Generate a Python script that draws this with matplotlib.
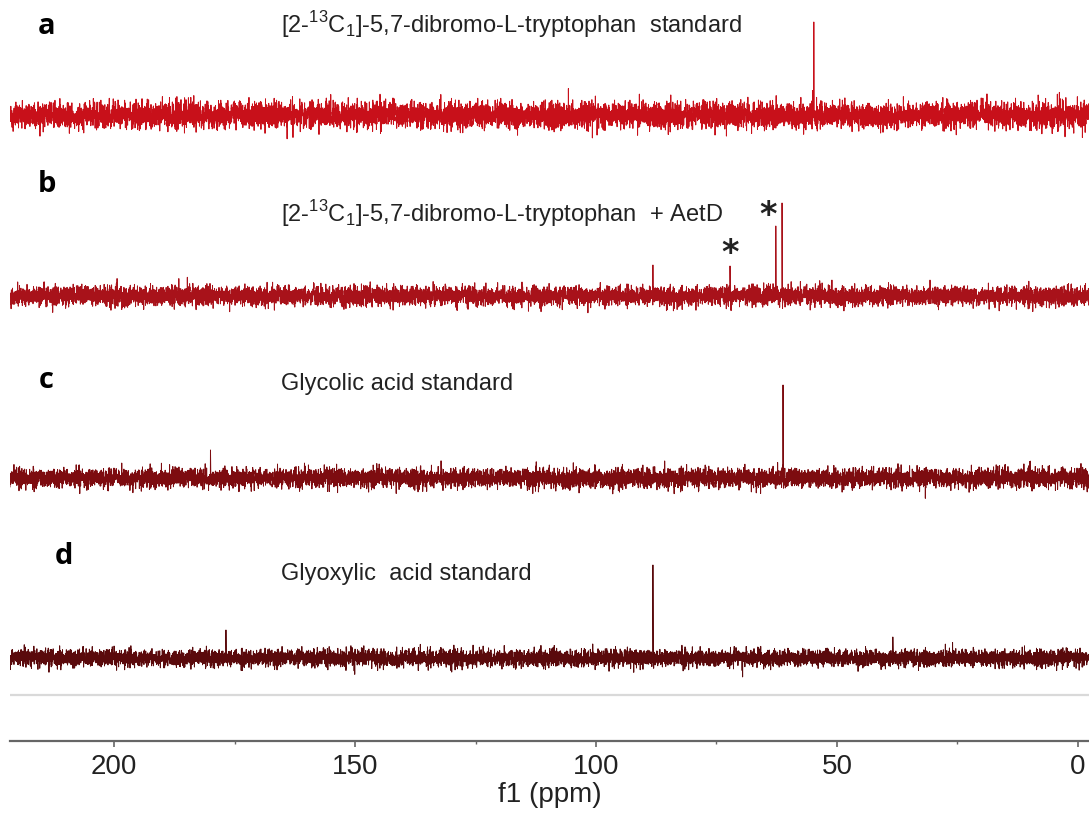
import numpy as np
import matplotlib
matplotlib.use("Agg")
import matplotlib.pyplot as plt
from matplotlib.ticker import MultipleLocator

# peak positions (ppm) and heights (approx. px above baseline)
peaks_a_ppm = [54.8]
peaks_a_h = [93]
peaks_b_ppm = [88.2, 72.2, 62.7, 61.4]
peaks_b_h = [31, 30, 70, 93]
peaks_c_ppm = [180.0, 61.2]
peaks_c_h = [28, 93]
peaks_d_ppm = [176.8, 88.2, 38.4]
peaks_d_h = [28, 93, 21]

panel_letters = ['a', 'b', 'c', 'd']
panel_titles = [r'[2-$^{13}$C$_1$]-5,7-dibromo-L-tryptophan  standard',
                r'[2-$^{13}$C$_1$]-5,7-dibromo-L-tryptophan  + AetD',
                'Glycolic acid standard',
                'Glyoxylic  acid standard']
starred_ppm = [72.2, 62.7]

# ppm axis
x_left, x_right = 221.6, -2.3
ppm = np.linspace(x_left, x_right, 9000)

# layout: baselines (px above the axis line), noise level, colour
baselines = [626, 445, 263, 83]
noise_sd = [6.5, 4.8, 4.8, 4.2]
colors = ['#c8101a', '#a8121a', '#7d0c10', '#5a0a0c']

plt.rcParams['font.family'] = ['Liberation Sans', 'DejaVu Sans']
plt.rcParams['mathtext.fontset'] = 'custom'
plt.rcParams['mathtext.rm'] = 'Liberation Sans'

fig = plt.figure(figsize=(10.89, 8.14), dpi=100)
ax = fig.add_axes([10 / 1089, 73 / 814, 1079 / 1089, 741 / 814])
ax.set_xlim(x_left, x_right)
ax.set_ylim(0, 741)

# baseline noise texture (seeded, only the peaks are read values)
rng = np.random.default_rng(7)
spectra = [(peaks_a_ppm, peaks_a_h), (peaks_b_ppm, peaks_b_h),
           (peaks_c_ppm, peaks_c_h), (peaks_d_ppm, peaks_d_h)]
for i, (pp, hh) in enumerate(spectra):
    y = rng.normal(0, noise_sd[i], ppm.size)
    for p, h in zip(pp, hh):
        k = np.argmin(np.abs(ppm - p))
        y[k] = h
        y[k + 1] = h * 0.6
    ax.plot(ppm, y + baselines[i], color=colors[i], lw=0.7)

# panel letters and titles
letter_y = [715, 556, 361, 185]
letter_x = [214, 214, 214, 210.5]
title_y = [716, 527, 357, 167]
for i in range(4):
    ax.text(letter_x[i], letter_y[i], panel_letters[i], fontsize=21,
            fontweight='bold', family=['Open Sans', 'DejaVu Sans'],
            ha='center', va='center')
    ax.text(165.3, title_y[i], panel_titles[i], fontsize=17,
            ha='left', va='center', color='#222222')

# asterisks over the new peaks
ax.text(starred_ppm[0], 487, '*', fontsize=24, ha='center', va='center',
        fontweight='bold', family=['DejaVu Sans'], color='#222222')
ax.text(starred_ppm[1] + 1.6, 525, '*', fontsize=24, ha='center', va='center',
        fontweight='bold', family=['DejaVu Sans'], color='#222222')

# light grey separator
ax.axhline(46, color='#d9d9d9', lw=1.6)

for s in ['top', 'left', 'right']:
    ax.spines[s].set_visible(False)
ax.spines['bottom'].set_color('#666666')
ax.spines['bottom'].set_linewidth(1.6)
ax.set_yticks([])
ax.xaxis.set_major_locator(MultipleLocator(50))
ax.xaxis.set_minor_locator(MultipleLocator(25))
ax.tick_params(axis='x', which='major', length=4, width=1.2, color='#666666',
               labelsize=20, pad=5, labelcolor='#222222')
ax.tick_params(axis='x', which='minor', length=2.5, width=1.0, color='#666666')
ax.set_xlabel('f1 (ppm)', fontsize=20, labelpad=2, color='#222222')

fig.savefig('out.png', dpi=100)
